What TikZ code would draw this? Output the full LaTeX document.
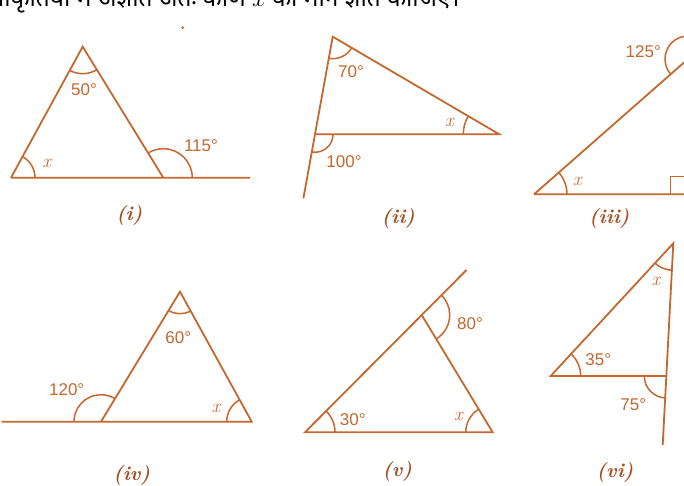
\documentclass[tikz,border=0pt]{standalone}
\usepackage{fontspec}
\newfontfamily\numfont{Liberation Sans}
\newfontfamily\hindifont[Script=Devanagari]{Noto Sans}
\usetikzlibrary{angles,calc}
\definecolor{geo}{RGB}{196,104,48}
\definecolor{capcol}{RGB}{160,80,36}
\tikzset{
  geoline/.style={draw=geo, line width=1.8pt},
  arcmark/.style={draw=geo, line width=1.5pt},
  deg/.style={text=geo, font=\numfont\fontsize{17}{17}\selectfont, inner sep=0pt},
  var/.style={text=geo, font=\fontsize{19}{19}\selectfont\itshape, inner sep=0pt},
  caption/.style={text=capcol, font=\fontsize{20}{20}\selectfont\bfseries\itshape, inner sep=0pt},
}
\begin{document}
\begin{tikzpicture}[x=1pt,y=1pt]
\useasboundingbox (0,0) rectangle (684,485);
\clip (0,0) rectangle (684,485);
\fill[white] (0,0) rectangle (684,485);

% title line (cut by the top edge, as in the reference)
\node[anchor=base east, inner sep=0pt, font=\hindifont\fontsize{24.5}{24.5}\selectfont] (title) at (460,478) {आकृतियों में अज्ञात अंतः कोण $x$ का मान ज्ञात कीजिए।};
\node[circle, fill=geo, inner sep=0pt, minimum size=3pt] (dot) at (182.7,457.3) {};

% (i)
\coordinate (A1) at (82.7,438.3);
\coordinate (B1) at (11,307.3);
\coordinate (C1) at (163.3,307.3);
\coordinate (E1) at (250,307.3);
\draw[geoline] (B1) -- (E1) (B1) -- (A1) -- (C1);
\pic[arcmark, angle radius=24pt] {angle=C1--B1--A1};
\pic[arcmark, angle radius=27pt] {angle=B1--A1--C1};
\pic[arcmark, angle radius=29pt] {angle=E1--C1--A1};
\node[deg] (a50) at (84,395) {50°};
\node[var] (x1) at (46.7,322) {x};
\node[deg] (a115) at (201,339) {115°};
\node[caption] (c1) at (129.3,270) {(i)};

% (ii)
\coordinate (A2) at (332.7,448.3);
\coordinate (D2) at (315,350.7);
\coordinate (F2) at ($(A2)!1.656!(D2)$);
\coordinate (C2) at (499.3,350.7);
\draw[geoline] (F2) -- (A2) -- (C2) -- (D2);
\pic[arcmark, angle radius=22pt] {angle=D2--A2--C2};
\pic[arcmark, angle radius=36pt] {angle=A2--C2--D2};
\pic[arcmark, angle radius=18pt] {angle=F2--D2--C2};
\node[deg] (a70) at (351,413.3) {70°};
\node[var] (x2) at (449.3,362.3) {x};
\node[deg] (a100) at (344,323.3) {100°};
\node[caption] (c2) at (398.3,266.7) {(ii)};

% (iii)
\coordinate (A3) at (534,290.7);
\coordinate (R3) at (688,290.7);
\coordinate (T3) at (688,426);
\coordinate (H3) at ($(A3)!1.2!(T3)$);
\coordinate (U3) at (688,470);
\coordinate (E3) at (700,290.7);
\coordinate (Q3) at (670.3,308.4);
\draw[geoline] (A3) -- (H3) (A3) -- (E3) (R3) -- (U3);
\draw[arcmark] (Q3 |- R3) -- (Q3) -- (Q3 -| R3);
\pic[arcmark, angle radius=33pt] {angle=R3--A3--T3};
\pic[arcmark, angle radius=23pt] {angle=U3--T3--A3};
\node[deg] (a125) at (643.3,433.3) {125°};
\node[var] (x3) at (577.3,303.3) {x};
\node[caption] (c3) at (609.3,266.7) {(iii)};

% (iv)
\coordinate (A4) at (180,193.3);
\coordinate (R4) at (251.7,63.3);
\coordinate (L4) at (101,63.3);
\coordinate (S4) at (1.7,63.3);
\draw[geoline] (S4) -- (R4) -- (A4) -- (L4);
\pic[arcmark, angle radius=22pt] {angle=L4--A4--R4};
\pic[arcmark, angle radius=27pt] {angle=A4--L4--S4};
\pic[arcmark, angle radius=25pt] {angle=A4--R4--L4};
\node[deg] (a60) at (178.3,147.7) {60°};
\node[deg] (a120) at (66.7,95) {120°};
\node[var] (x4) at (216,76.7) {x};
\node[caption] (c4) at (131.7,10) {(iv)};

% (v)
\coordinate (L5) at (305,52.7);
\coordinate (R5) at (492.7,52.7);
\coordinate (T5) at (421.7,170);
\coordinate (E5) at ($(L5)!1.384!(T5)$);
\draw[geoline] (E5) -- (L5) -- (R5) -- (T5);
\pic[arcmark, angle radius=28pt] {angle=R5--T5--E5};
\pic[arcmark, angle radius=30pt] {angle=R5--L5--T5};
\pic[arcmark, angle radius=27pt] {angle=T5--R5--L5};
\node[deg] (a80) at (470,161) {80°};
\node[deg] (a30) at (352.7,65.7) {30°};
\node[var] (x5) at (458.3,68.3) {x};
\node[caption] (c5) at (397.3,13.3) {(v)};

% (vi)
\coordinate (T6) at (673.3,241.7);
\coordinate (B6) at (662.7,40);
\coordinate (M6) at ($(T6)!0.658!(B6)$);
\coordinate (L6) at (550.7,109);
\draw[geoline] (B6) -- (T6) -- (L6) -- (M6);
\pic[arcmark, angle radius=27pt] {angle=L6--T6--B6};
\pic[arcmark, angle radius=30pt] {angle=M6--L6--T6};
\pic[arcmark, angle radius=22pt] {angle=L6--M6--B6};
\node[var] (x6) at (656,203.3) {x};
\node[deg] (a35) at (598.3,125) {35°};
\node[deg] (a75) at (633.3,80) {75°};
\node[caption] (c6) at (615,12.7) {(vi)};
\end{tikzpicture}
\end{document}
